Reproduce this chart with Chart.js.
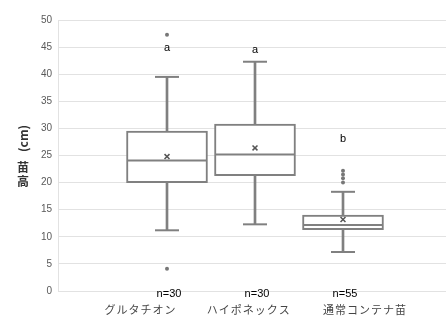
<!DOCTYPE html>
<html>
<head>
<meta charset="utf-8">
<script src="https://cdn.jsdelivr.net/npm/chart.js@4"></script>
<style>
  html, body { margin: 0; padding: 0; background: #ffffff; }
  #wrap { width: 446px; height: 320px; }
</style>
</head>
<body>
<div id="wrap"><canvas id="c" width="446" height="320"></canvas></div>
<script>
// ---- data ----
const categories = ['グルタチオン', 'ハイポネックス', '通常コンテナ苗'];
const nLabels = ['n=30', 'n=30', 'n=55'];
const sigLetters = ['a', 'a', 'b'];
const sigLetterY = [44.9, 44.5, 28.0];
const whiskerMin = [11.2, 12.3, 7.2];
const q1 = [20.0, 21.3, 11.3];
const median = [24.1, 25.2, 12.2];
const q3 = [29.5, 30.8, 14.0];
const whiskerMax = [39.5, 42.3, 18.3];
const means = [24.8, 26.4, 13.2];
const outliers = [[47.3, 4.1], [], [22.2, 21.5, 20.8, 20.0]];
const yTicks = [0, 5, 10, 15, 20, 25, 30, 35, 40, 45, 50];
const yTitleChars = ['苗', '高'];   // stacked top to bottom, below the unit
const yTitleUnit = '(cm)';
// horizontal shift of the category text boxes relative to each box (in category units)
const categoryLabelShift = [-0.30, -0.07, 0.25];

const pos = categories.map((c, i) => i + 1);
const GRAY = '#808080';

const annotations = {
  id: 'annotations',
  afterDraw(chart) {
    const ctx = chart.ctx;
    const xs = chart.scales.x, ys = chart.scales.y;
    ctx.save();
    // significance letters
    ctx.fillStyle = '#000000';
    ctx.font = '11px "Liberation Sans", sans-serif';
    ctx.textAlign = 'center';
    ctx.textBaseline = 'middle';
    sigLetters.forEach((t, i) => ctx.fillText(t, xs.getPixelForValue(pos[i]), ys.getPixelForValue(sigLetterY[i])));
    // n labels
    ctx.font = '11px "Liberation Sans", sans-serif';
    const yBase = ys.getPixelForValue(0);
    nLabels.forEach((t, i) => ctx.fillText(t, xs.getPixelForValue(pos[i]) + 2, yBase + 3));
    // category labels
    ctx.fillStyle = '#454545';
    ctx.font = '11px "Noto Sans CJK JP", sans-serif';
    if ('letterSpacing' in ctx) ctx.letterSpacing = '1px';
    categories.forEach((t, i) => ctx.fillText(t, xs.getPixelForValue(pos[i] + categoryLabelShift[i]), yBase + 19));
    if ('letterSpacing' in ctx) ctx.letterSpacing = '0px';
    // y axis title: unit rotated on top, CJK characters upright below
    ctx.fillStyle = '#333333';
    ctx.font = 'bold 12px "Noto Sans CJK JP", sans-serif';
    const cx = 23;
    const midY = (ys.top + ys.bottom) / 2;
    let yy = midY + 12;
    yTitleChars.forEach((ch) => { ctx.fillText(ch, cx, yy); yy += 14; });
    ctx.translate(cx, midY - 17);
    ctx.rotate(-Math.PI / 2);
    ctx.fillText(yTitleUnit, 0, 0);
    ctx.restore();
  }
};

new Chart(document.getElementById('c'), {
  data: {
    datasets: [
      {
        type: 'line', label: 'outliers', showLine: false, order: 0,
        data: outliers.flatMap((arr, i) => arr.map(v => ({ x: pos[i], y: v }))),
        pointStyle: 'circle', pointRadius: 2, pointBackgroundColor: '#777777', pointBorderWidth: 0
      },
      {
        type: 'line', label: 'mean', showLine: false, order: 0,
        data: means.map((v, i) => ({ x: pos[i], y: v })),
        pointStyle: 'crossRot', pointRadius: 3.5, pointBorderColor: '#555555', pointBorderWidth: 1.5
      },
      {
        type: 'line', label: 'median', showLine: false, order: 1,
        data: median.map((v, i) => ({ x: pos[i], y: v })),
        pointStyle: 'line', pointRadius: 40, pointBorderColor: GRAY, pointBorderWidth: 2
      },
      {
        type: 'line', label: 'caps', showLine: false, order: 1,
        data: whiskerMin.map((v, i) => ({ x: pos[i], y: v })).concat(whiskerMax.map((v, i) => ({ x: pos[i], y: v }))),
        pointStyle: 'line', pointRadius: 12, pointBorderColor: GRAY, pointBorderWidth: 2
      },
      {
        type: 'bar', label: 'box', order: 2, grouped: false,
        data: q1.map((v, i) => ({ x: pos[i], y: [v, q3[i]] })),
        barThickness: 81, backgroundColor: '#ffffff', borderColor: GRAY, borderWidth: 2, borderSkipped: false
      },
      {
        type: 'bar', label: 'whiskerLow', order: 3, grouped: false,
        data: whiskerMin.map((v, i) => ({ x: pos[i], y: [v, q1[i]] })),
        barThickness: 2, backgroundColor: GRAY, borderWidth: 0
      },
      {
        type: 'bar', label: 'whiskerHigh', order: 3, grouped: false,
        data: q3.map((v, i) => ({ x: pos[i], y: [v, whiskerMax[i]] })),
        barThickness: 2, backgroundColor: GRAY, borderWidth: 0
      }
    ]
  },
  options: {
    responsive: false,
    animation: false,
    layout: { autoPadding: false, padding: { top: 20, right: 0, bottom: 29, left: 0 } },
    plugins: { legend: { display: false }, tooltip: { enabled: false } },
    scales: {
      x: {
        type: 'linear', display: false, offset: false,
        grid: { offset: false },
        min: 1 - 109 / 88, max: 1 - 109 / 88 + 388 / 88
      },
      y: {
        min: 0, max: 50,
        afterFit(scale) { scale.width = 58; },
        afterBuildTicks(scale) { scale.ticks = yTicks.map(v => ({ value: v })); },
        ticks: { color: '#595959', font: { size: 10, family: '"Liberation Sans", sans-serif' }, padding: 6 },
        grid: { color: '#e2e2e2', lineWidth: 1, drawTicks: false },
        border: { display: true, color: '#e2e2e2' }
      }
    }
  },
  plugins: [annotations]
});
</script>
</body>
</html>
